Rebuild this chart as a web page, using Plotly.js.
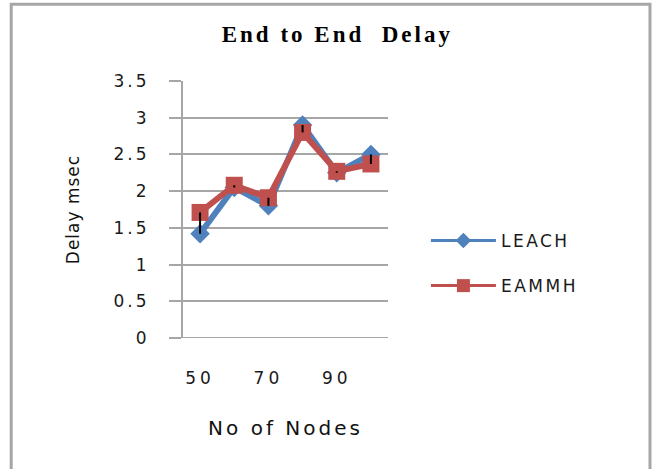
<!DOCTYPE html>
<html>
<head>
<meta charset="utf-8">
<script src="https://cdn.plot.ly/plotly-3.0.1.min.js"></script>
<style>
html,body{margin:0;padding:0;background:#fff;}
#chart{width:655px;height:469px;}
.gtitle{letter-spacing:3px;}
.ytick text{letter-spacing:3px;}
.xtick text{letter-spacing:4px;}
.g-xtitle text{letter-spacing:3px;}
.g-ytitle text{letter-spacing:1px;}
.legendtext{letter-spacing:2.5px;}
</style>
</head>
<body>
<div id="chart"></div>
<script>
var nodes = [50, 60, 70, 80, 90, 100];
var leach = [1.42, 2.05, 1.8, 2.9, 2.25, 2.5];
var eammh = [1.71, 2.08, 1.91, 2.8, 2.27, 2.37];
var xTicks = [50, 70, 90];
var yTicks = [0, 0.5, 1, 1.5, 2, 2.5, 3, 3.5];
var yTickText = ['0', '0.5', '1', '1.5', '2', '2.5', '3', '3.5'];

var blue = '#4F81BD', red = '#C0504D';

// high-low lines built from the two series
var hlX = [], hlY = [];
for (var i = 0; i < nodes.length; i++) {
  hlX.push(nodes[i], nodes[i], null);
  hlY.push(leach[i], eammh[i], null);
}

var traces = [
  {x: nodes, y: leach, name: 'LEACH', type: 'scatter', mode: 'lines+markers', showlegend: false,
   line: {color: blue, width: 6},
   marker: {symbol: 'diamond', size: 15, color: blue}},
  {x: nodes, y: eammh, name: 'EAMMH', type: 'scatter', mode: 'lines+markers', showlegend: false,
   line: {color: red, width: 6},
   marker: {symbol: 'square', size: 17, color: red}},
  {x: hlX, y: hlY, type: 'scatter', mode: 'lines', showlegend: false,
   line: {color: '#000', width: 2}, hoverinfo: 'skip'},
  // legend entries (no data points)
  {x: [null], y: [null], name: 'LEACH', type: 'scatter', mode: 'lines+markers', legendgroup: 'a',
   line: {color: blue, width: 3}, marker: {symbol: 'diamond', size: 12, color: blue}},
  {x: [null], y: [null], name: 'EAMMH', type: 'scatter', mode: 'lines+markers', legendgroup: 'b',
   line: {color: red, width: 3}, marker: {symbol: 'square', size: 13, color: red}}
];

var layout = {
  width: 655, height: 469,
  margin: {l: 183, r: 267, t: 81, b: 131},
  paper_bgcolor: '#fff', plot_bgcolor: '#fff',
  title: {text: '<b>End to End\u00a0 Delay</b>', x: 0.515, xanchor: 'center', y: 0.927, yanchor: 'middle',
          font: {family: 'Liberation Serif, serif', size: 23, color: '#000'}},
  xaxis: {range: [45, 105], tickvals: xTicks, ticktext: xTicks.map(String),
          showgrid: false, zeroline: false, showline: false, ticks: '',
          tickfont: {family: 'DejaVu Sans, sans-serif', size: 17, color: '#1a1a1a'},
          ticklabelstandoff: 28,
          title: {text: 'No of Nodes', standoff: 33,
                  font: {family: 'DejaVu Sans, sans-serif', size: 20, color: '#111'}}},
  yaxis: {range: [0, 3.5], tickvals: yTicks, ticktext: yTickText,
          showgrid: true, gridcolor: '#a6a6a6', gridwidth: 2, zeroline: false,
          showline: true, linecolor: '#a6a6a6', linewidth: 2,
          ticks: 'outside', ticklen: 12, tickcolor: '#a6a6a6', tickwidth: 2,
          tickfont: {family: 'DejaVu Sans, sans-serif', size: 17, color: '#1a1a1a'},
          ticklabelstandoff: 16,
          title: {text: 'Delay msec', standoff: 30,
                  font: {family: 'DejaVu Sans, sans-serif', size: 17, color: '#111'}}},
  legend: {x: 1.185, xanchor: 'left', y: 0.29, yanchor: 'middle', itemwidth: 65,
           tracegroupgap: 20, bgcolor: 'rgba(0,0,0,0)',
           font: {family: 'DejaVu Sans, sans-serif', size: 17, color: '#1a1a1a'}},
  shapes: [
    {type: 'rect', xref: 'paper', yref: 'paper', x0: -0.838, x1: 2.278, y0: -0.55, y1: 1.299,
     line: {color: '#a6a6a6', width: 3}, fillcolor: 'rgba(0,0,0,0)', layer: 'below'},
    {type: 'line', xref: 'paper', yref: 'y', x0: 0, x1: 1, y0: 0, y1: 0,
     line: {color: '#a6a6a6', width: 2}, layer: 'below'}
  ],
  showlegend: true
};

Plotly.newPlot('chart', traces, layout, {displayModeBar: false, staticPlot: true});
</script>
</body>
</html>
